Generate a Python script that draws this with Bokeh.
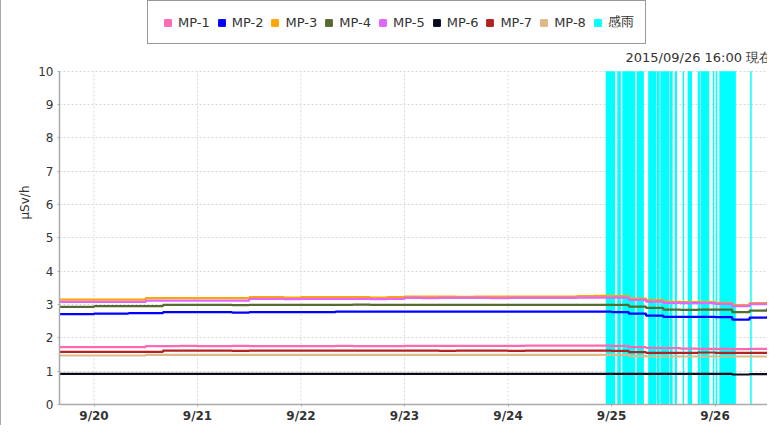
import pandas as pd
from bokeh.plotting import figure
from bokeh.models import Range1d, FixedTicker, Legend, LegendItem, Label
from bokeh.embed import file_html
from bokeh.resources import INLINE

# ---------------- data ----------------
start_time = "2015-09-19 16:00"   # first reading, readings every 4 hours
series_names = ["MP-1", "MP-2", "MP-3", "MP-4", "MP-5", "MP-6", "MP-7", "MP-8"]

mp1 = [1.72] * 5 + [1.75, 1.75, 1.76, 1.75, 1.75, 1.76, 1.75, 1.75, 1.75, 1.75, 1.75, 1.76, 1.75, 1.75,
                    1.75, 1.76, 1.76, 1.76, 1.76, 1.76, 1.76, 1.76, 1.77, 1.77, 1.77, 1.77, 1.77] + \
      [1.76, 1.72, 1.70, 1.69, 1.68, 1.67, 1.67, 1.66, 1.67, 1.68, 1.69]
mp2 = [2.71, 2.71, 2.73, 2.73, 2.74, 2.74] + \
      [2.77, 2.77, 2.77, 2.77, 2.76, 2.77, 2.77, 2.77, 2.77, 2.77] + [2.79] * 16 + \
      [2.77, 2.73, 2.67, 2.63, 2.63, 2.63, 2.62, 2.55, 2.61, 2.62, 2.64]
mp3 = [3.15] * 5 + [3.19] * 6 + [3.22, 3.22, 3.21, 3.22, 3.22, 3.22, 3.22, 3.21, 3.22] + \
      [3.24, 3.24, 3.24, 3.23, 3.24, 3.24, 3.24, 3.24, 3.24, 3.24] + [3.25, 3.26, 3.25] + \
      [3.18, 3.13, 3.08, 3.07, 3.07, 3.05, 2.98, 3.04, 3.06, 3.12]
mp4 = [2.93, 2.93, 2.95, 2.95, 2.95, 2.95] + \
      [2.99, 2.99, 2.99, 2.99, 2.98, 2.99, 2.99, 2.99, 2.99, 2.99, 2.99, 3.00, 2.99, 2.99,
       2.99, 2.99, 2.99, 2.99, 2.99, 2.99, 2.99, 2.99, 2.99, 2.99, 2.99, 2.99, 2.99] + \
      [2.94, 2.90, 2.85, 2.84, 2.85, 2.85, 2.77, 2.82, 2.86, 2.88]
mp5 = [3.08] * 5 + [3.12] * 6 + [3.17, 3.17, 3.16, 3.17, 3.17, 3.17, 3.17, 3.16, 3.17] + \
      [3.20, 3.19, 3.20, 3.20, 3.20, 3.19, 3.20, 3.20, 3.20, 3.20] + [3.21, 3.21, 3.21] + \
      [3.14, 3.09, 3.05, 3.04, 3.04, 3.02, 2.95, 3.01, 3.03, 3.08]
mp6 = [0.92] * 39 + [0.90, 0.91, 0.91, 0.91]
mp7 = [1.58] * 6 + \
      [1.62, 1.62, 1.62, 1.62, 1.61, 1.62, 1.62, 1.62, 1.62, 1.62, 1.62, 1.62, 1.62, 1.62,
       1.62, 1.62, 1.61, 1.62, 1.62, 1.62, 1.61, 1.62, 1.62, 1.62, 1.62, 1.62, 1.61] + \
      [1.57, 1.55, 1.55, 1.55, 1.56, 1.55, 1.55, 1.55, 1.56, 1.59]
mp8 = [1.47] * 5 + [1.49] * 28 + [1.45] + [1.44] * 9

# rain sensor (感雨) intervals
rain_start = ["2015-09-24 22:40", "2015-09-25 01:20", "2015-09-25 02:30", "2015-09-25 05:50",
              "2015-09-25 08:30", "2015-09-25 10:30", "2015-09-25 11:20", "2015-09-25 13:30",
              "2015-09-25 14:40", "2015-09-25 16:30", "2015-09-25 17:40", "2015-09-25 20:00",
              "2015-09-25 20:40", "2015-09-25 23:30", "2015-09-26 00:10", "2015-09-26 01:00",
              "2015-09-26 08:10"]
rain_end = ["2015-09-25 00:50", "2015-09-25 02:10", "2015-09-25 05:30", "2015-09-25 07:30",
            "2015-09-25 10:20", "2015-09-25 11:10", "2015-09-25 13:20", "2015-09-25 14:10",
            "2015-09-25 15:10", "2015-09-25 16:50", "2015-09-25 18:40", "2015-09-25 20:30",
            "2015-09-25 22:40", "2015-09-25 23:50", "2015-09-26 00:30", "2015-09-26 04:50",
            "2015-09-26 08:30"]

day_ticks = ["2015-09-20", "2015-09-21", "2015-09-22", "2015-09-23", "2015-09-24", "2015-09-25", "2015-09-26"]
day_labels = ["9/20", "9/21", "9/22", "9/23", "9/24", "9/25", "9/26"]
y_ticks = [0, 1, 2, 3, 4, 5, 6, 7, 8, 9, 10]
timestamp_text = "2015/09/26 16:00 現在"

colors = ["#ff69b4", "#0000ff", "#ffa500", "#556b2f", "#e066ff", "#0a0a1e", "#b22222", "#deb887"]
rain_color = "#00ffff"

# ---------------- layout (pixels) ----------------
W, H = 767, 425
LEFT = 58            # space for y axis
BOTTOM = 20          # space for x tick labels
PLOT_TOP_PX = 71     # where y = 10 sits, measured from the top of the frame
frame_h = H - BOTTOM
y_max = y_ticks[-1]
y_end = y_max * frame_h / (frame_h - PLOT_TOP_PX)

def ms(s):
    return pd.Timestamp(s).value // 10**6

times = pd.date_range(start_time, periods=len(mp1), freq="4h")
day_dt = [pd.Timestamp(d) for d in day_ticks]

p = figure(width=W, height=H, x_axis_type="datetime", output_backend="svg",
           toolbar_location=None,
           x_range=Range1d(ms("2015-09-19 16:00"), ms("2015-09-26 12:24")),
           y_range=Range1d(0, y_end),
           min_border_left=LEFT, min_border_right=0, min_border_top=0, min_border_bottom=BOTTOM)
p.styles = {"border-left": "1px solid #aaaaaa"}
p.outline_line_color = None
p.background_fill_color = "white"
p.border_fill_color = "white"

# vertical grid lines (only up to y = 10), drawn below rain bars
p.xgrid.visible = False
p.segment(x0=day_dt, x1=day_dt, y0=0, y1=y_max, line_color="#d8d8d8", line_dash="2 2", line_width=1)

# rain bars
p.quad(left=[pd.Timestamp(s) for s in rain_start], right=[pd.Timestamp(s) for s in rain_end],
       bottom=0, top=y_max, fill_color=rain_color, line_color=None)

all_series = [mp1, mp2, mp3, mp4, mp5, mp6, mp7, mp8]
for vals, c in zip(all_series, colors):
    p.step(times, vals, mode="after", line_color=c, line_width=2.2)

# legend proxies (one invisible NaN point each, so the legend can draw a square)
nan = float("nan")
items = []
for name, c in zip(series_names, colors):
    r = p.scatter([nan], [nan], marker="square", size=7, fill_color=c, line_color=c)
    items.append(LegendItem(label=name, renderers=[r]))
rr = p.scatter([nan], [nan], marker="square", size=8, fill_color=rain_color, line_color=rain_color)
items.append(LegendItem(label="感雨", renderers=[rr]))

legend = Legend(items=items, orientation="horizontal", location=(88, frame_h - 45),
                border_line_color="#333333", border_line_width=1,
                background_fill_color="white", background_fill_alpha=1,
                label_text_font_size="13px", label_text_color="#333333",
                label_text_font="DejaVu Sans",
                glyph_width=17, glyph_height=17, label_standoff=2, spacing=3,
                padding=11, margin=0, label_height=20)
p.add_layout(legend, "center")

p.add_layout(Label(x=566, y=frame_h - 58, x_units="screen", y_units="screen", text=timestamp_text,
                   text_font_size="13px", text_color="#333333", text_baseline="middle",
                   text_font="DejaVu Sans"))

# axes
p.xaxis.ticker = FixedTicker(ticks=[ms(d) for d in day_ticks])
p.xaxis.major_label_overrides = {ms(d): lab for d, lab in zip(day_ticks, day_labels)}
p.yaxis.ticker = FixedTicker(ticks=y_ticks)
p.yaxis.bounds = (0, y_max)
for ax in (p.xaxis, p.yaxis):
    ax.axis_line_color = "#aaaaaa"
    ax.axis_line_width = 1.5
    ax.major_tick_line_color = "#aaaaaa"
    ax.major_tick_out = 2
    ax.major_tick_in = 0
    ax.minor_tick_line_color = None
    ax.major_label_text_color = "#333333"
    ax.major_label_text_font = "DejaVu Sans"
    ax.major_label_text_font_size = "12px"
p.xaxis.major_label_text_font_style = "bold"
p.xaxis.major_label_standoff = 2
p.yaxis.major_label_standoff = 4
p.yaxis.axis_label = "μSv/h"
p.yaxis.axis_label_text_font_style = "normal"
p.yaxis.axis_label_text_font_size = "12px"
p.yaxis.axis_label_text_color = "#333333"
p.yaxis.axis_label_text_font = "DejaVu Sans"
p.yaxis.axis_label_standoff = 3

p.ygrid.grid_line_color = "#d8d8d8"
p.ygrid.grid_line_dash = "2 2"
p.ygrid.grid_line_width = 1

open("out.html", "w").write(file_html(p, INLINE))
